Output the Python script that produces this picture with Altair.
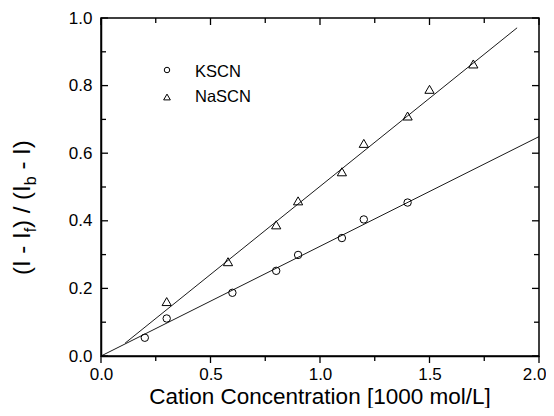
import altair as alt
import pandas as pd

# ---- data ----
kscn_x = [0.2, 0.3, 0.6, 0.8, 0.9, 1.1, 1.2, 1.4]
kscn_y = [0.054, 0.111, 0.187, 0.252, 0.299, 0.349, 0.404, 0.454]
nascn_x = [0.3, 0.58, 0.8, 0.9, 1.1, 1.2, 1.4, 1.5, 1.7]
nascn_y = [0.161, 0.279, 0.388, 0.459, 0.545, 0.629, 0.710, 0.789, 0.864]
kscn_fit_x = [0.0, 2.0]
kscn_fit_y = [0.0, 0.649]
nascn_fit_x = [0.11, 1.9]
nascn_fit_y = [0.038, 0.971]

x_major = [0.0, 0.5, 1.0, 1.5, 2.0]
x_minor = [0.25, 0.75, 1.25, 1.75]
y_major = [0.0, 0.2, 0.4, 0.6, 0.8, 1.0]
y_minor = [0.1, 0.3, 0.5, 0.7, 0.9]

series_names = ["KSCN", "NaSCN"]
x_title = "Cation Concentration [1000 mol/L]"
y_title_parts = ["(I - I", "f", ") / (I", "b", "- I)"]

FONT = "Liberation Sans"
W, H = 438, 338

xscale = alt.Scale(domain=[0, 2], nice=False, zero=False)
yscale = alt.Scale(domain=[0, 1], nice=False, zero=False)
last_x = "datum.value >= 2"
xaxis = alt.Axis(values=x_major, format=".1f", ticks=False, tickSize=0, labelPadding=10,
                 labelFontSize=17, labelFont=FONT, labelColor="black", labelFlush=False,
                 labelAlign={"condition": {"test": last_x, "value": "right"}, "value": "center"},
                 labelOffset={"condition": {"test": last_x, "value": 7}, "value": 0},
                 labelOverlap=False, domainColor="black", domainWidth=1.5, grid=False, title=None)
yaxis = alt.Axis(values=y_major, format=".1f", ticks=False, tickSize=0, labelPadding=9,
                 labelFontSize=17, labelFont=FONT, labelColor="black", labelFlush=False,
                 labelOverlap=False, domainColor="black", domainWidth=1.5, grid=False, title=None)


def X(f):
    return alt.X(f, type="quantitative", scale=xscale, axis=xaxis)


def Y(f):
    return alt.Y(f, type="quantitative", scale=yscale, axis=yaxis)


k_df = pd.DataFrame({"x": kscn_x, "y": kscn_y})
n_df = pd.DataFrame({"x": nascn_x, "y": nascn_y})
kf_df = pd.DataFrame({"x": kscn_fit_x, "y": kscn_fit_y})
nf_df = pd.DataFrame({"x": nascn_fit_x, "y": nascn_fit_y})

layers = []
layers.append(alt.Chart(kf_df).mark_line(color="black", strokeWidth=0.9).encode(x=X("x"), y=Y("y")))
layers.append(alt.Chart(nf_df).mark_line(color="black", strokeWidth=0.9).encode(x=X("x"), y=Y("y")))
layers.append(alt.Chart(k_df).mark_point(shape="circle", filled=False, color="black", size=55,
                                         strokeWidth=1, opacity=1).encode(x=X("x"), y=Y("y")))
layers.append(alt.Chart(n_df).mark_point(shape="triangle-up", filled=False, color="black", size=85,
                                         strokeWidth=1, opacity=1).encode(x=X("x"), y=Y("y")))

# tick marks (bottom outward, others inward)
xmaj = pd.DataFrame({"v": x_major})
xmin = pd.DataFrame({"v": x_minor})
ymaj = pd.DataFrame({"v": y_major})
ymin = pd.DataFrame({"v": y_minor})
MAJ, MIN = 7, 5
tick_style = dict(color="black", strokeWidth=1.3)
layers.append(alt.Chart(xmaj).mark_rule(**tick_style).encode(x=X("v"), y=alt.value(H), y2=alt.value(H + MAJ)))
layers.append(alt.Chart(xmin).mark_rule(**tick_style).encode(x=X("v"), y=alt.value(H), y2=alt.value(H + MIN)))
layers.append(alt.Chart(xmaj).mark_rule(**tick_style).encode(x=X("v"), y=alt.value(0), y2=alt.value(MAJ)))
layers.append(alt.Chart(xmin).mark_rule(**tick_style).encode(x=X("v"), y=alt.value(0), y2=alt.value(MIN)))
layers.append(alt.Chart(ymaj).mark_rule(**tick_style).encode(y=Y("v"), x=alt.value(0), x2=alt.value(MAJ)))
layers.append(alt.Chart(ymin).mark_rule(**tick_style).encode(y=Y("v"), x=alt.value(0), x2=alt.value(MIN)))
layers.append(alt.Chart(ymaj).mark_rule(**tick_style).encode(y=Y("v"), x=alt.value(W), x2=alt.value(W - MAJ)))
layers.append(alt.Chart(ymin).mark_rule(**tick_style).encode(y=Y("v"), x=alt.value(W), x2=alt.value(W - MIN)))

# legend
one = pd.DataFrame({"t": [0]})
layers.append(alt.Chart(one).mark_point(shape="circle", filled=False, color="black", size=30,
                                        strokeWidth=1, opacity=1).encode(x=alt.value(66), y=alt.value(52)))
layers.append(alt.Chart(one).mark_point(shape="triangle-up", filled=False, color="black", size=45,
                                        strokeWidth=1, opacity=1).encode(x=alt.value(66), y=alt.value(79)))
lab_df = pd.DataFrame({"t": series_names})
layers.append(alt.Chart(lab_df.iloc[[0]]).mark_text(font=FONT, fontSize=16.5, align="left", baseline="alphabetic",
                                                   color="black").encode(x=alt.value(94), y=alt.value(59), text="t:N"))
layers.append(alt.Chart(lab_df.iloc[[1]]).mark_text(font=FONT, fontSize=16.5, align="left", baseline="alphabetic",
                                                   color="black").encode(x=alt.value(94), y=alt.value(84), text="t:N"))

# x title
layers.append(alt.Chart(pd.DataFrame({"t": [x_title]})).mark_text(
    font=FONT, fontSize=22.5, align="center", baseline="alphabetic", color="black"
).encode(x=alt.value(W / 2), y=alt.value(386), text="t:N"))

# y title in pieces (subscripts)
main_fs, sub_fs = 24, 16
ybase_x = -71
sub_x = -65
piece_y = [257, 214.3, 209.9, 167.2, 151.6]
piece_x = [ybase_x, sub_x, ybase_x, sub_x, ybase_x]
piece_fs = [main_fs, sub_fs, main_fs, sub_fs, main_fs]
for txt, px, py, fs in zip(y_title_parts, piece_x, piece_y, piece_fs):
    layers.append(alt.Chart(pd.DataFrame({"t": [txt]})).mark_text(
        font=FONT, fontSize=fs, align="left", baseline="alphabetic", angle=270, color="black"
    ).encode(x=alt.value(px), y=alt.value(py), text="t:N"))

chart = alt.layer(*layers).properties(
    width=W, height=H,
    autosize=alt.AutoSizeParams(type="none"),
    padding={"left": 93, "top": 10, "right": 7, "bottom": 52},
    background="white",
).configure_view(stroke="black", strokeWidth=1.5)

chart.save("out.html", embed_options={"renderer": "svg", "actions": False})
